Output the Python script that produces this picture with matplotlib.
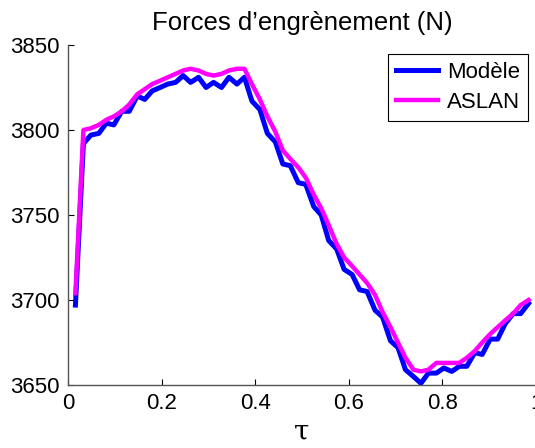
import numpy as np
import matplotlib
matplotlib.use("Agg")
import matplotlib.pyplot as plt

# sample positions (k/61, k = 1..60)
tau = [0.016, 0.033, 0.049, 0.066, 0.082, 0.098, 0.115, 0.131, 0.148, 0.164,
       0.180, 0.197, 0.213, 0.230, 0.246, 0.262, 0.279, 0.295, 0.311, 0.328,
       0.344, 0.361, 0.377, 0.393, 0.410, 0.426, 0.443, 0.459, 0.475, 0.492,
       0.508, 0.525, 0.541, 0.557, 0.574, 0.590, 0.607, 0.623, 0.639, 0.656,
       0.672, 0.689, 0.705, 0.721, 0.738, 0.754, 0.770, 0.787, 0.803, 0.820,
       0.836, 0.852, 0.869, 0.885, 0.902, 0.918, 0.934, 0.951, 0.967, 0.984]

modele = [3697, 3792, 3797, 3798, 3804, 3803, 3811, 3811, 3820, 3818,
          3823, 3825, 3827, 3828, 3832, 3828, 3831, 3825, 3828, 3825,
          3831, 3827, 3831, 3817, 3812, 3798, 3793, 3780, 3779, 3769,
          3768, 3755, 3750, 3735, 3730, 3718, 3715, 3706, 3705, 3694,
          3690, 3676, 3672, 3659, 3655, 3651, 3657, 3657, 3660, 3658,
          3661, 3661, 3669, 3668, 3677, 3677, 3686, 3692, 3692, 3698]

aslan = [3704, 3800, 3801, 3803, 3806, 3808, 3811, 3815, 3821, 3824,
         3827, 3829, 3831, 3833, 3835, 3836, 3835, 3833, 3832, 3833,
         3835, 3836, 3836, 3827, 3818, 3808, 3799, 3788, 3783, 3778,
         3772, 3762, 3754, 3744, 3733, 3725, 3720, 3715, 3710, 3703,
         3693, 3684, 3675, 3666, 3659, 3658, 3659, 3663, 3663, 3663,
         3663, 3666, 3670, 3675, 3680, 3684, 3688, 3692, 3697, 3700]

xticks = [0, 0.2, 0.4, 0.6, 0.8, 1]
xticklabels = ["0", "0.2", "0.4", "0.6", "0.8", "1"]
yticks = [3650, 3700, 3750, 3800, 3850]

plt.rcParams['font.family'] = ['Liberation Sans', 'DejaVu Sans']

fig = plt.figure(figsize=(5.35, 4.48), dpi=100)
ax = fig.add_axes([0.127, 0.1406, 0.875, 0.759])

ax.plot(tau, modele, color=(0, 0, 1), lw=3.6, label="Modèle")
ax.plot(tau, aslan, color=(1, 0, 1), lw=3.2, label="ASLAN")

ax.set_xlim(0, 1)
ax.set_ylim(3650, 3850)
ax.set_xticks(xticks)
ax.set_xticklabels(xticklabels)
ax.set_yticks(yticks)
ax.tick_params(direction='in', length=4, width=0.8, labelsize=16, pad=6)
ax.spines['top'].set_visible(False)
ax.spines['right'].set_visible(False)
for s in ('left', 'bottom'):
    ax.spines[s].set_color('#555555')
    ax.spines[s].set_linewidth(1.0)

ax.set_title("Forces d’engrènement (N)", fontsize=18.5, pad=11)
ax.set_xlabel("τ", fontsize=20, family=['DejaVu Serif'], labelpad=3)

leg = ax.legend(loc='upper right', bbox_to_anchor=(0.983, 0.974), fontsize=16,
                fancybox=False, framealpha=1, handlelength=1.9,
                borderpad=0.35, labelspacing=0.43, handletextpad=0.4,
                borderaxespad=0)
leg.get_frame().set_edgecolor('black')
leg.get_frame().set_linewidth(0.8)

fig.savefig("out.png", dpi=100)
